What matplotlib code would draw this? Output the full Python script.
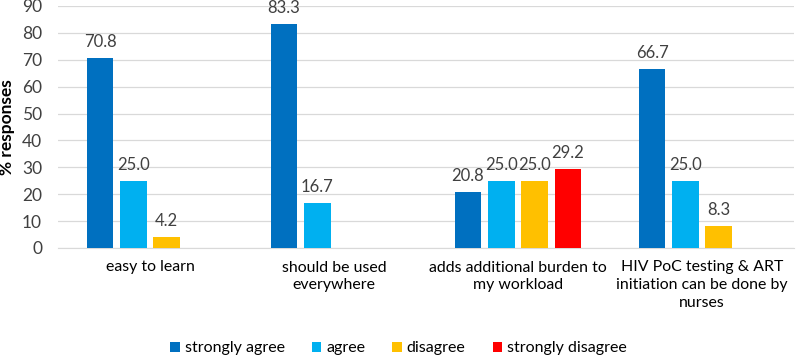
import numpy as np
import matplotlib
matplotlib.use("Agg")
import matplotlib.pyplot as plt
from matplotlib.patches import Patch

plt.rcParams['font.family'] = ['Lato', 'DejaVu Sans']

categories = ["easy to learn", "should be used\neverywhere",
              "adds additional burden to\nmy workload",
              "HIV PoC testing & ART\ninitiation can be done by\nnurses"]
series_names = ["strongly agree", "agree", "disagree", "strongly disagree"]
strongly_agree = [70.8, 83.3, 20.8, 66.7]
agree = [25.0, 16.7, 25.0, 25.0]
disagree = [4.2, np.nan, 25.0, 8.3]
strongly_disagree = [np.nan, np.nan, 29.2, np.nan]
colors = ["#0070C0", "#00B0F0", "#FFC000", "#FF0000"]
yticks = [0, 10, 20, 30, 40, 50, 60, 70, 80, 90]

all_series = [strongly_agree, agree, disagree, strongly_disagree]

W, H = 797, 359
fig = plt.figure(figsize=(W / 100, H / 100), dpi=100)
left, right, top, bottom = 58, 794, 6, 248
ax = fig.add_axes([left / W, (H - bottom) / H, (right - left) / W, (bottom - top) / H])

x = np.arange(len(categories))
step = 0.181
width = 0.144
txtc = "#404040"
for i, (vals, c) in enumerate(zip(all_series, colors)):
    pos = x + (i - 1.5) * step
    v = np.array(vals, dtype=float)
    ax.bar(pos, v, width=width, color=c, zorder=3)
    for p, val in zip(pos, v):
        if not np.isnan(val):
            ax.text(p, val + 3, f"{val:.1f}", ha="center", va="bottom",
                    fontsize=12, color=txtc)

ax.set_xlim(-0.5, len(categories) - 0.5)
ax.set_ylim(0, 90)
ax.set_yticks(yticks)
ax.set_yticklabels([str(t) for t in yticks], fontsize=12.5, color=txtc)
ax.set_xticks(x)
ax.set_xticklabels(categories, fontsize=11.4, color="#000000", linespacing=1.35)
ax.tick_params(axis='both', length=0)
ax.tick_params(axis='x', pad=9)
ax.tick_params(axis='y', pad=11.5)
ax.grid(axis='y', color="#D9D9D9", linewidth=0.9, zorder=0)
for s in ["top", "right", "left"]:
    ax.spines[s].set_visible(False)
ax.spines["bottom"].set_color("#D9D9D9")
ax.set_ylabel("% responses", fontsize=12.5, fontweight="bold")
ax.yaxis.set_label_coords(-0.058, 0.5)

handles = [Patch(facecolor=c, label=n) for c, n in zip(colors, series_names)]
fig.legend(handles=handles, loc="center", bbox_to_anchor=(0.5, 0.03), ncol=4,
           frameon=False, fontsize=11.5, handlelength=0.6, handleheight=0.6,
           handletextpad=0.3, columnspacing=1.7)

fig.savefig("out.png", dpi=100)
